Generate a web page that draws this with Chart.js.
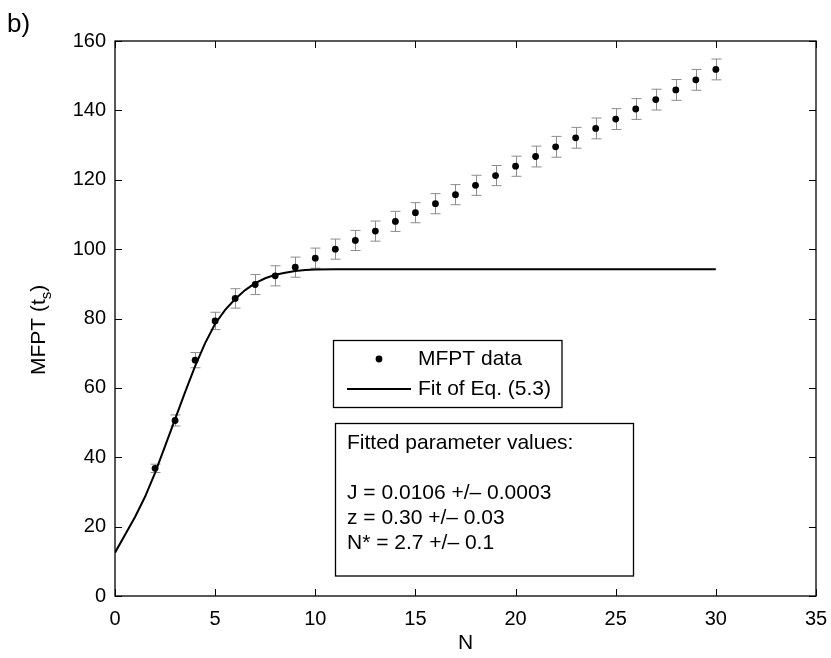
<!DOCTYPE html>
<html>
<head>
<meta charset="utf-8">
<script src="https://cdn.jsdelivr.net/npm/chart.js@4.4.0/dist/chart.umd.min.js"></script>
<style>
  html, body { margin: 0; padding: 0; background: #fff; }
  canvas { display: block; }
</style>
</head>
<body>
<canvas id="mfptChart" width="831" height="658"></canvas>
<script>
// measured MFPT values with error bars
const nValues = [2, 3, 4, 5, 6, 7, 8, 9, 10, 11, 12, 13, 14, 15, 16, 17, 18, 19, 20, 21, 22, 23, 24, 25, 26, 27, 28, 29, 30];
const mfptValues = [36.8, 50.6, 68.0, 79.3, 85.8, 89.8, 92.3, 94.8, 97.4, 100.0, 102.5, 105.2, 108.0, 110.5, 113.1, 115.7, 118.4, 121.2, 123.9, 126.7, 129.5, 132.1, 134.8, 137.5, 140.4, 143.1, 145.9, 148.8, 151.8];
const mfptErrors = [1.2, 1.6, 2.2, 2.5, 2.8, 2.9, 2.9, 2.9, 2.9, 2.9, 2.9, 2.9, 2.9, 2.9, 2.9, 2.9, 2.9, 2.9, 2.9, 3.0, 3.0, 3.0, 3.0, 3.0, 3.0, 3.0, 3.0, 3.0, 3.0];

// fitted curve
const fitN = [0, 1, 1.5, 2, 2.5, 3, 3.5, 4, 4.5, 5, 5.5, 6, 6.5, 7, 7.5, 8, 8.5, 9, 9.5, 10, 11, 12, 15, 20, 25, 30];
const fitValues = [12.5, 22.8, 28.6, 35.5, 43.2, 51.0, 58.8, 66.3, 72.9, 78.5, 82.5, 85.6, 88.2, 90.2, 91.6, 92.6, 93.2, 93.7, 94.0, 94.1, 94.2, 94.2, 94.2, 94.2, 94.2, 94.2];

const legendLabels = ['MFPT data', 'Fit of Eq. (5.3)'];
const paramLines = ['Fitted parameter values:', '', 'J = 0.0106 +/\u2013 0.0003', 'z = 0.30 +/\u2013 0.03', 'N* = 2.7 +/\u2013 0.1'];

const FONT = '"Liberation Sans", Arial, Helvetica, sans-serif';

const framePlugin = {
    id: 'frame',
    beforeDatasetsDraw(chart) {
        const c = chart.ctx;
        const xs = chart.scales.x, ys = chart.scales.y;
        c.save();
        c.strokeStyle = '#8c8c8c';
        c.lineWidth = 1;
        nValues.forEach((n, i) => {
            const px = Math.round(xs.getPixelForValue(n)) + 0.5;
            const top = ys.getPixelForValue(mfptValues[i] + mfptErrors[i]);
            const bot = ys.getPixelForValue(mfptValues[i] - mfptErrors[i]);
            c.beginPath();
            c.moveTo(px, top); c.lineTo(px, bot);
            c.moveTo(px - 5, top); c.lineTo(px + 5, top);
            c.moveTo(px - 5, bot); c.lineTo(px + 5, bot);
            c.stroke();
        });
        c.restore();
    },
    afterDraw(chart) {
        const c = chart.ctx;
        const a = chart.chartArea;
        const xs = chart.scales.x, ys = chart.scales.y;
        c.save();

        // axes box with inward ticks
        c.strokeStyle = '#000';
        c.lineWidth = 1.3;
        c.strokeRect(a.left, a.top, a.right - a.left, a.bottom - a.top);
        c.lineWidth = 1;
        c.beginPath();
        xs.ticks.forEach(t => {
            const px = Math.round(xs.getPixelForValue(t.value)) + 0.5;
            c.moveTo(px, a.bottom); c.lineTo(px, a.bottom - 7);
            c.moveTo(px, a.top); c.lineTo(px, a.top + 7);
        });
        ys.ticks.forEach(t => {
            const py = Math.round(ys.getPixelForValue(t.value)) + 0.5;
            c.moveTo(a.left, py); c.lineTo(a.left + 7, py);
            c.moveTo(a.right, py); c.lineTo(a.right - 7, py);
        });
        c.stroke();

        c.fillStyle = '#000';
        // panel label
        c.font = '26px ' + FONT;
        c.textBaseline = 'alphabetic';
        c.textAlign = 'left';
        c.fillText('b)', 7, 32);

        // x title
        c.font = '21px ' + FONT;
        c.textAlign = 'center';
        c.textBaseline = 'middle';
        c.fillText('N', (a.left + a.right) / 2, 643);

        // y title with subscript
        c.save();
        c.translate(45, 375);
        c.rotate(-Math.PI / 2);
        c.textAlign = 'left';
        c.textBaseline = 'alphabetic';
        c.font = '21px ' + FONT;
        let x = 0;
        c.fillText('MFPT (t', x, 0);
        x += c.measureText('MFPT (t').width;
        c.font = '15px ' + FONT;
        c.fillText('s', x, 6);
        x += c.measureText('s').width;
        c.font = '21px ' + FONT;
        c.fillText(')', x, 0);
        c.restore();

        // legend box
        c.fillStyle = '#fff';
        c.fillRect(333.5, 340.5, 228.5, 67);
        c.lineWidth = 1.3;
        c.strokeRect(333.5, 340.5, 228.5, 67);
        c.fillStyle = '#000';
        c.beginPath();
        c.arc(379, 359, 3.4, 0, Math.PI * 2);
        c.fill();
        c.lineWidth = 2;
        c.beginPath();
        c.moveTo(347, 389); c.lineTo(411, 389);
        c.stroke();
        c.font = '21px ' + FONT;
        c.textAlign = 'left';
        c.textBaseline = 'middle';
        c.fillText(legendLabels[0], 418, 359);
        c.fillText(legendLabels[1], 418, 389);

        // parameter box
        c.fillStyle = '#fff';
        c.fillRect(335.5, 423.5, 298, 152.5);
        c.lineWidth = 1.3;
        c.strokeRect(335.5, 423.5, 298, 152.5);
        c.fillStyle = '#000';
        paramLines.forEach((line, i) => {
            c.fillText(line, 347, 443 + i * 25);
        });

        c.restore();
    }
};

const ctx = document.getElementById('mfptChart').getContext('2d');
new Chart(ctx, {
    type: 'scatter',
    data: {
        datasets: [
            {
                label: legendLabels[0],
                data: nValues.map((n, i) => ({ x: n, y: mfptValues[i] })),
                pointRadius: 3.4,
                pointBackgroundColor: '#000',
                pointBorderColor: '#000',
                pointBorderWidth: 0,
                showLine: false,
                order: 0
            },
            {
                label: legendLabels[1],
                type: 'line',
                data: fitN.map((n, i) => ({ x: n, y: fitValues[i] })),
                borderColor: '#000',
                borderWidth: 2,
                pointRadius: 0,
                fill: false,
                tension: 0,
                order: 1
            }
        ]
    },
    options: {
        responsive: false,
        animation: false,
        devicePixelRatio: 1,
        layout: { padding: { left: 0, top: 41, right: 15, bottom: 0 } },
        plugins: {
            legend: { display: false },
            tooltip: { enabled: false }
        },
        scales: {
            x: {
                type: 'linear',
                min: 0,
                max: 35,
                ticks: { stepSize: 5, color: '#000', font: { family: FONT, size: 20 }, padding: 11, maxRotation: 0, autoSkip: false },
                grid: { display: false, drawTicks: false },
                border: { display: false },
                afterFit(scale) {
                    scale.height = 62;
                    scale.paddingLeft = 0;
                    scale.paddingRight = 0;
                }
            },
            y: {
                min: 0,
                max: 160,
                ticks: { stepSize: 20, color: '#000', font: { family: FONT, size: 20 }, padding: 9 },
                grid: { display: false, drawTicks: false },
                border: { display: false },
                afterFit(scale) {
                    scale.width = 115;
                    scale.paddingTop = 0;
                    scale.paddingBottom = 0;
                }
            }
        }
    },
    plugins: [framePlugin]
});
</script>
</body>
</html>
